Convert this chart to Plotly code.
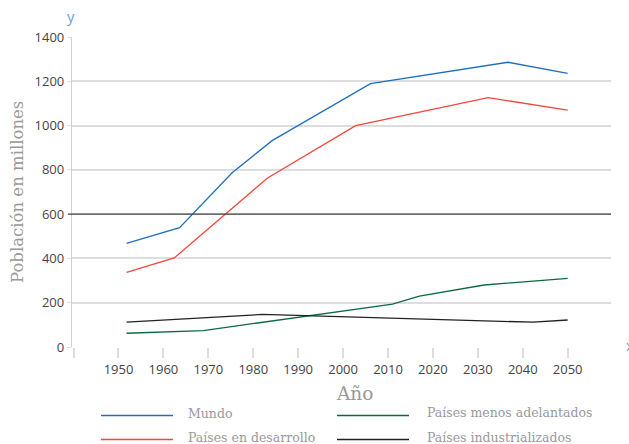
import plotly.graph_objects as go

# ---- data ----
series_names = ["Mundo", "Países en desarrollo", "Países menos adelantados", "Países industrializados"]
series_colors = ["#1f6fc0", "#f4473a", "#0b6b3e", "#222222"]

mundo_x = [1951.8, 1963.6, 1975.3, 1984.2, 2006.1, 2036.7, 2050]
mundo_y = [468, 539, 787, 932, 1189, 1286, 1236]

desarrollo_x = [1951.8, 1962.4, 1983.1, 2002.8, 2032.3, 2050]
desarrollo_y = [337, 402, 762, 1000, 1126, 1070]

menos_x = [1951.8, 1968.9, 2011.0, 2017.0, 2031.4, 2050]
menos_y = [62, 74, 194, 230, 280, 310]

indus_x = [1951.8, 1982.0, 2042.3, 2050]
indus_y = [112, 147, 112, 122]

x_tickvals = [1940, 1950, 1960, 1970, 1980, 1990, 2000, 2010, 2020, 2030, 2040, 2050, 2060]
x_ticktext = ["", "1950", "1960", "1970", "1980", "1990", "2000", "2010", "2020", "2030", "2040", "2050", ""]
y_tickvals = [0, 200, 400, 600, 800, 1000, 1200, 1400]
ref_value = 600

xs = [mundo_x, desarrollo_x, menos_x, indus_x]
ys = [mundo_y, desarrollo_y, menos_y, indus_y]

W, H = 629, 444
ML, MR, MT, MB = 72, 18, 37, 97
PW, PH = W - ML - MR, H - MT - MB

fig = go.Figure()
for name, color, x, y in zip(series_names, series_colors, xs, ys):
    fig.add_trace(go.Scatter(x=x, y=y, mode="lines", name=name,
                             line=dict(color=color, width=1.3), showlegend=False,
                             hoverinfo="skip"))

# reference line at 600
fig.add_shape(type="line", xref="paper", yref="y", x0=-4 / PW, x1=1, y0=ref_value, y1=ref_value,
              line=dict(color="#444444", width=1.3), layer="above")

serif = "DejaVu Serif"
sans = "Open Sans"
title_color = "#999999"

# manual legend (long line samples): (line x start, line y, text x, text y)
leg_pos = [(101, 415.5, 186, 413), (101, 439.5, 186, 437),
           (337, 415.5, 425, 412), (337, 439.5, 425, 437)]
for name, color, (lx, ly, tx, ty) in zip(series_names, series_colors, leg_pos):
    fig.add_shape(type="line", xref="paper", yref="paper",
                  x0=(lx - ML) / PW, x1=(lx + 72 - ML) / PW,
                  y0=(H - MB - ly) / PH, y1=(H - MB - ly) / PH,
                  line=dict(color=color, width=1.3))
    fig.add_annotation(xref="paper", yref="paper", x=(tx - ML) / PW, y=(H - MB - ty) / PH,
                       text=name, showarrow=False, xanchor="left", yanchor="middle",
                       font=dict(family=serif, size=12.5, color=title_color))

# axis titles
fig.add_annotation(xref="paper", yref="paper", x=(354 - ML) / PW, y=(H - MB - 393) / PH,
                   text="Año", showarrow=False, xanchor="center", yanchor="middle",
                   font=dict(family=serif, size=18.5, color=title_color))
fig.add_annotation(xref="paper", yref="paper", x=(17 - ML) / PW, y=(H - MB - 192) / PH,
                   text="Población en millones", showarrow=False, textangle=-90,
                   xanchor="center", yanchor="middle",
                   font=dict(family=serif, size=16.5, color=title_color))
# small axis letters
fig.add_annotation(xref="paper", yref="paper", x=(71 - ML) / PW, y=(H - MB - 16) / PH,
                   text="y", showarrow=False, xanchor="center", yanchor="middle",
                   font=dict(family=sans, size=15, color="#6a9fdb"))
fig.add_annotation(xref="paper", yref="paper", x=(624 - ML) / PW, y=(H - MB - 345) / PH,
                   text="x", showarrow=False, xanchor="left", yanchor="middle",
                   font=dict(family=sans, size=15, color="#6a9fdb"))

fig.update_layout(
    width=W, height=H,
    margin=dict(l=ML, r=MR, t=MT, b=MB, pad=0),
    paper_bgcolor="white", plot_bgcolor="white",
    font=dict(family=sans, size=13, color="#444444"),
    showlegend=False,
    xaxis=dict(range=[1939.65, 2059.65], tickvals=x_tickvals, ticktext=x_ticktext,
               showgrid=False, zeroline=False, showline=False,
               ticks="outside", ticklen=10, tickcolor="#dddddd", tickwidth=1.5,
               tickfont=dict(family=sans, size=13, color="#444444")),
    yaxis=dict(range=[0, 1400], tickvals=y_tickvals, showgrid=True, gridcolor="#dddddd",
               gridwidth=1.5, zeroline=False, showline=True, linecolor="#d0d0d0", linewidth=1.3,
               ticks="outside", ticklen=4, tickcolor="#dddddd",
               tickfont=dict(family=sans, size=13, color="#444444")),
)

fig.write_html("out.html", config={"displayModeBar": False})
with open("out.html", encoding="utf-8") as f:
    html = f.read()
html = html.replace("<head>", "<head><style>html,body{margin:0;padding:0;overflow:hidden;}</style>", 1)
with open("out.html", "w", encoding="utf-8") as f:
    f.write(html)
